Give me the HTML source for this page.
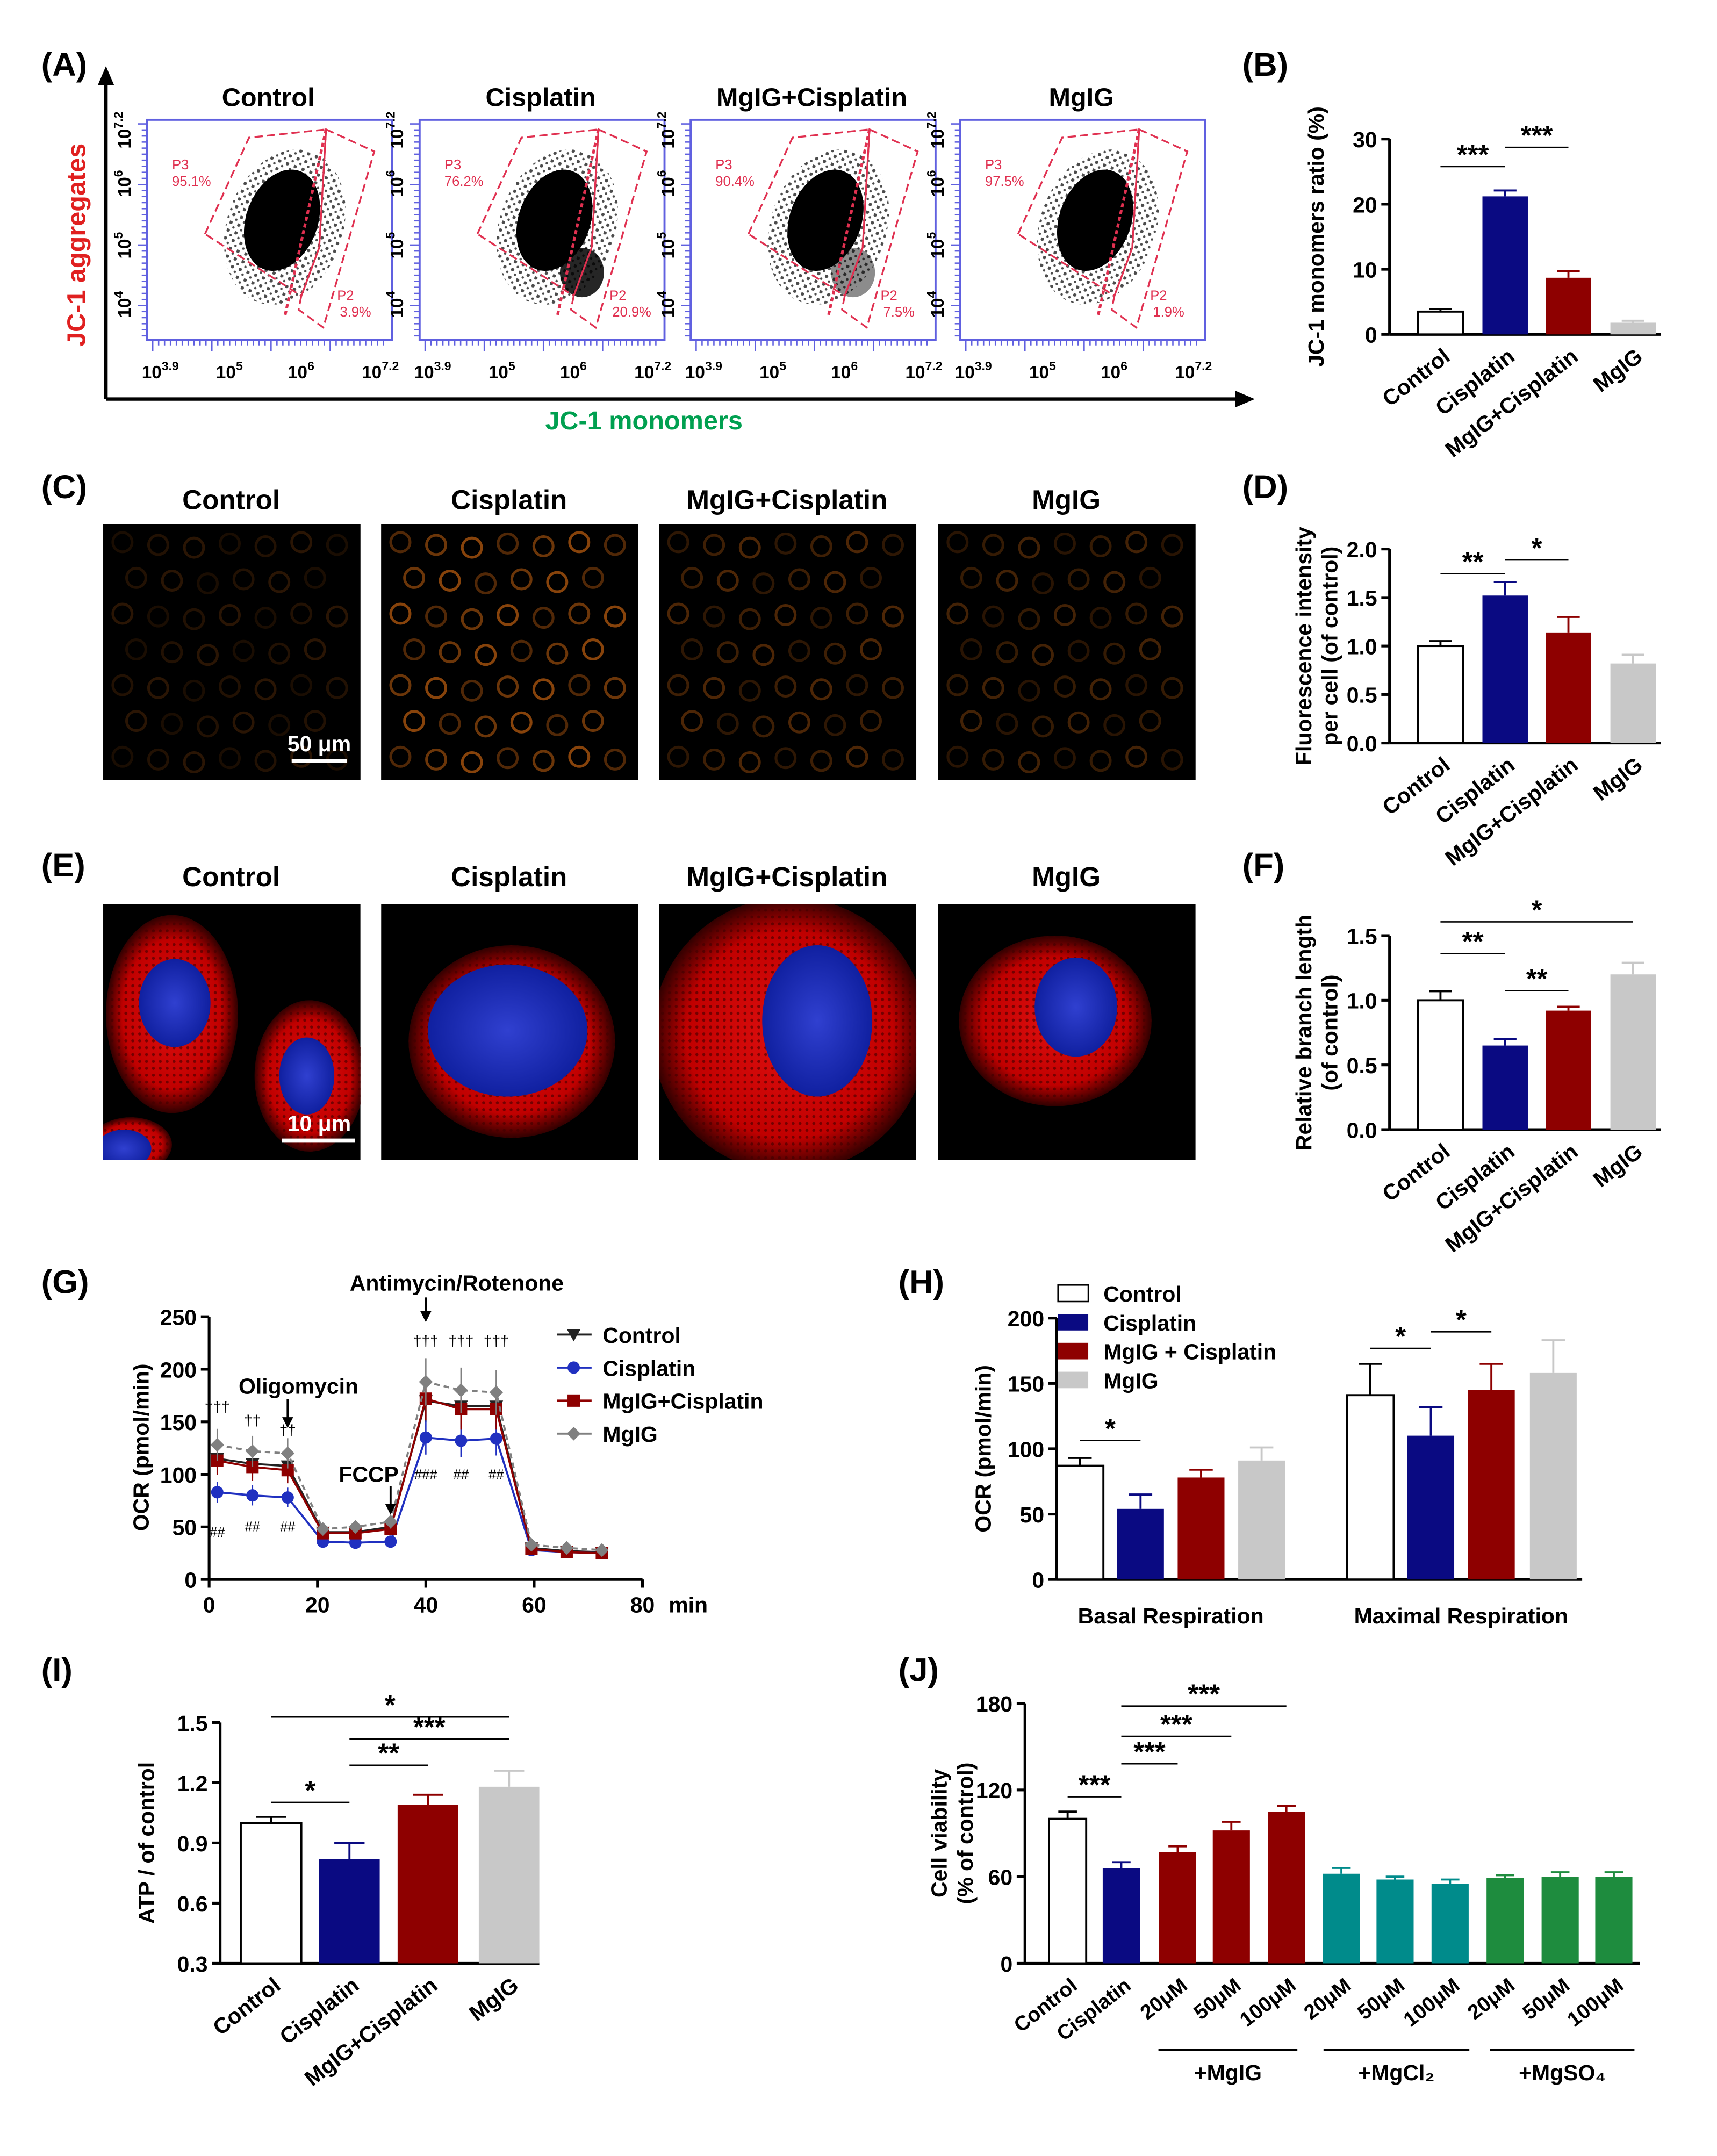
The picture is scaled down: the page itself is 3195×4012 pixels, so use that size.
<!DOCTYPE html>
<html><head><meta charset="utf-8"><style>
body{margin:0;background:#fff}
svg{display:block;font-family:"Liberation Sans",Arial,sans-serif}
</style></head><body>
<svg id="fig" width="3195" height="4012" viewBox="0 0 1248 1567" xmlns="http://www.w3.org/2000/svg">
<defs>
<radialGradient id="redcell" cx="50%" cy="50%" r="50%"><stop offset="0" stop-color="#e01010"/><stop offset="0.75" stop-color="#c00000"/><stop offset="1" stop-color="#300000"/></radialGradient>
<radialGradient id="nuc" cx="50%" cy="50%" r="50%"><stop offset="0" stop-color="#3040d0"/><stop offset="1" stop-color="#1020a0"/></radialGradient>
<pattern id="speck" width="6" height="6" patternUnits="userSpaceOnUse"><rect width="6" height="6" fill="none"/><circle cx="1" cy="1" r="1.3" fill="#000"/><circle cx="4" cy="4" r="0.9" fill="#000"/></pattern>
<pattern id="redspeck" width="5" height="5" patternUnits="userSpaceOnUse"><circle cx="1.5" cy="1.5" r="1.1" fill="#400000" opacity="0.6"/></pattern>
</defs>
<g id="root"></g>
</svg>
<script>
// ---- data ----
const barCats = ["Control","Cisplatin","MgIG+Cisplatin","MgIG"];
const bValues = [3.5,21.2,8.7,1.8];
const bErr = [0.4,0.9,1.0,0.3];
const dValues = [1.0,1.52,1.14,0.82];
const dErr = [0.05,0.14,0.16,0.09];
const fValues = [1.0,0.65,0.92,1.2];
const fErr = [0.07,0.05,0.03,0.09];
const gTimes = [1.5,8,14.5,21,27,33.5,40,46.5,53,59.5,66,72.5];
const gControl = [115,110,108,45,45,50,170,165,165,30,27,26];
const gCisplatin = [83,80,78,36,35,36,135,132,134,28,26,25];
const gMgCis = [113,107,104,44,44,48,172,162,162,29,26,25];
const gMgIG = [128,122,120,48,50,55,188,180,178,33,30,28];
const hBasal = [87,54,78,91];
const hBasalErr = [6,11,6,10];
const hMax = [141,110,145,158];
const hMaxErr = [24,22,20,25];
const iValues = [1.0,0.82,1.09,1.18];
const iErr = [0.03,0.08,0.05,0.08];
const jCats = ["Control","Cisplatin","20μM","50μM","100μM","20μM","50μM","100μM","20μM","50μM","100μM"];
const jValues = [100,66,77,92,105,62,58,55,59,60,60];
const jErr = [5,4,4,6,4,4,2,3,2,3,3];
const flowP3 = ["95.1%","76.2%","90.4%","97.5%"];
const flowP2 = ["3.9%","20.9%","7.5%","1.9%"];

const NS="http://www.w3.org/2000/svg";
const root=document.getElementById('root');
function el(tag,attrs,parent,text){const e=document.createElementNS(NS,tag);for(const k in attrs)e.setAttribute(k,attrs[k]);if(text!==undefined)e.textContent=text;(parent||root).appendChild(e);return e;}
const COL=["#ffffff","#0a0a82","#8e0000","#c8c8c8"];

function label(x,y,t,name){const e=el('text',{x:x,y:y,'font-size':24,'font-weight':'bold'},root,t);

}
label(30,55,"(A)","panel-a-label");label(903,55,"(B)","panel-b-label");
label(30,362,"(C)","panel-c-label");label(903,362,"(D)","panel-d-label");
label(30,637,"(E)","panel-e-label");label(903,637,"(F)","panel-f-label");
label(30,940,"(G)","panel-g-label");label(653,940,"(H)","panel-h-label");
label(30,1222,"(I)","panel-i-label");label(653,1222,"(J)","panel-j-label");

// ---- Panel A flow plots ----
el('line',{x1:77,y1:290,x2:77,y2:58,stroke:'#000','stroke-width':2.5});
el('polygon',{points:"77,48 71,62 83,62",fill:'#000'});
el('line',{x1:77,y1:290,x2:900,y2:290,stroke:'#000','stroke-width':2.5});
el('polygon',{points:"912,290 898,284 898,296",fill:'#000'});
let t=el('text',{x:468,y:312,'font-size':19,'font-weight':'bold',fill:'#00a050','text-anchor':'middle'},root,"JC-1 monomers");

t=el('text',{x:0,y:0,'font-size':19,'font-weight':'bold',fill:'#e02020','text-anchor':'middle',transform:'translate(62,178) rotate(-90)'},root,"JC-1 aggregates");

const flowX=[107,305,502,698];
flowX.forEach((x0,i)=>{
  const g=el('g',{});
  
  el('text',{x:x0+88,y:77,'font-size':19,'font-weight':'bold','text-anchor':'middle'},g,barCats[i]);
  el('rect',{x:x0,y:87,width:178,height:160,fill:'#fff',stroke:'#6060e0','stroke-width':1.5},g);
  el('ellipse',{cx:x0+100,cy:165,rx:42,ry:58,fill:'url(#speck)',opacity:0.7,transform:`rotate(20 ${x0+100} 165)`},g);
  el('ellipse',{cx:x0+98,cy:160,rx:26,ry:38,fill:'#000',transform:`rotate(20 ${x0+98} 160)`},g);
  if(i==1||i==2) el('ellipse',{cx:x0+118,cy:198,rx:16,ry:18,fill:'#000',opacity:i==1?0.85:0.45},g);
  el('polygon',{points:`${x0+42},170 ${x0+74},100 ${x0+130},94 ${x0+125},180 ${x0+112},215`,fill:'none',stroke:'#e03050','stroke-width':1.3,'stroke-dasharray':'6 3'},g);
  el('polygon',{points:`${x0+130},94 ${x0+165},110 ${x0+128},238 ${x0+110},225 ${x0+112},215 ${x0+125},180`,fill:'none',stroke:'#e03050','stroke-width':1.3,'stroke-dasharray':'6 3'},g);
  el('line',{x1:x0+130,y1:94,x2:x0+100,y2:230,stroke:'#e03050','stroke-width':2,'stroke-dasharray':'3 2'},g);
  el('text',{x:x0+18,y:123,'font-size':10,fill:'#e03050'},g,"P3");
  el('text',{x:x0+18,y:135,'font-size':10,fill:'#e03050'},g,flowP3[i]);
  el('text',{x:x0+138,y:218,'font-size':10,fill:'#e03050'},g,"P2");
  el('text',{x:x0+140,y:230,'font-size':10,fill:'#e03050'},g,flowP2[i]);
  for(let k=0;k<40;k++){el('line',{x1:x0+4+k*4.3,y1:247,x2:x0+4+k*4.3,y2:k%10==0?255:251,stroke:'#6060e0','stroke-width':1},g);}
  for(let k=0;k<36;k++){el('line',{x1:x0,y1:90+k*4.4,x2:x0-(k%10==0?7:4),y2:90+k*4.4,stroke:'#6060e0','stroke-width':1},g);}
  [["10","3.9",x0+4],["10","5",x0+58],["10","6",x0+110],["10","7.2",x0+164]].forEach(a=>{
    const tt=el('text',{x:a[2]-8,y:275,'font-size':13,'font-weight':'bold'},g,a[0]);
    el('tspan',{dy:-6,'font-size':9},tt,a[1]);
  });
  [["10","7.2",100],["10","6",135],["10","5",180],["10","4",223]].forEach(a=>{
    const tt=el('text',{x:0,y:0,'font-size':13,'font-weight':'bold',transform:`translate(${x0-12},${a[2]+8}) rotate(-90)`},g,a[0]);
    el('tspan',{dy:-6,'font-size':9},tt,a[1]);
  });
});

// ---- generic bar chart ----
function barChart(o){
  const g=el('g',{});
  
  const y=v=>o.y0+(v-o.vmin)/(o.vmax-o.vmin)*(o.y1-o.y0);
  el('line',{x1:o.ax,y1:y(o.vmin),x2:o.ax,y2:y(o.vmax),stroke:'#000','stroke-width':2},g);
  el('line',{x1:o.ax,y1:y(o.vmin),x2:o.axEnd,y2:y(o.vmin),stroke:'#000','stroke-width':2},g);
  o.ticks.forEach((tv,k)=>{el('line',{x1:o.ax-6,y1:y(tv),x2:o.ax,y2:y(tv),stroke:'#000','stroke-width':2},g);
    el('text',{x:o.ax-9,y:y(tv)+6,'font-size':o.fs||16,'font-weight':'bold','text-anchor':'end'},g,o.tickLabels[k]);});
  o.values.forEach((v,k)=>{
    const cx=o.xs[k],w=o.w,top=y(v),e=y(v+o.err[k]);
    el('line',{x1:cx,y1:top,x2:cx,y2:e,stroke:o.colors[k]=="#ffffff"?'#000':o.colors[k],'stroke-width':1.5},g);
    el('line',{x1:cx-w/4,y1:e,x2:cx+w/4,y2:e,stroke:o.colors[k]=="#ffffff"?'#000':o.colors[k],'stroke-width':1.5},g);
    const r=el('rect',{x:cx-w/2,y:top,width:w,height:y(o.vmin)-top,fill:o.colors[k],stroke:o.colors[k]=="#ffffff"?'#000':'none','stroke-width':1.5},g);
    
    
  });
  if(o.cats) o.cats.forEach((c,k)=>{
    el('text',{x:0,y:0,'font-size':o.cfs||16,'font-weight':'bold','text-anchor':'end',transform:`translate(${o.xs[k]+8},${y(o.vmin)+18}) rotate(-38)`},g,c);});
  if(o.title){o.title.forEach((tl,k)=>el('text',{x:0,y:0,'font-size':16,'font-weight':'bold','text-anchor':'middle',transform:`translate(${o.ax-48+k*19-(o.title.length-1)*9},${(y(o.vmin)+y(o.vmax))/2}) rotate(-90)`},g,tl));}
  (o.sig||[]).forEach(s=>{
    el('line',{x1:o.xs[s[0]],y1:s[2],x2:o.xs[s[1]],y2:s[2],stroke:'#000','stroke-width':1},g);
    el('text',{x:(o.xs[s[0]]+o.xs[s[1]])/2,y:s[2]-2,'font-size':20,'font-weight':'bold','text-anchor':'middle'},g,s[3]);
  });
  return {g,y};
}
const bx=[1047,1094,1140,1187];
barChart({name:'chart-b',ax:1010,axEnd:1207,y0:243,y1:101,vmin:0,vmax:30,ticks:[0,10,20,30],tickLabels:["0","10","20","30"],values:bValues,err:bErr,xs:bx,w:33,colors:COL,cats:barCats,title:["JC-1 monomers ratio (%)"],sig:[[0,1,121,"***"],[1,2,107,"***"]]});
barChart({name:'chart-d',ax:1010,axEnd:1207,y0:540,y1:399,vmin:0,vmax:2,ticks:[0,0.5,1,1.5,2],tickLabels:["0.0","0.5","1.0","1.5","2.0"],values:dValues,err:dErr,xs:bx,w:33,colors:COL,cats:barCats,title:["Fluorescence intensity","per cell (of control)"],sig:[[0,1,417,"**"],[1,2,407,"*"]]});
barChart({name:'chart-f',ax:1010,axEnd:1207,y0:821,y1:680,vmin:0,vmax:1.5,ticks:[0,0.5,1,1.5],tickLabels:["0.0","0.5","1.0","1.5"],values:fValues,err:fErr,xs:bx,w:33,colors:COL,cats:barCats,title:["Relative branch length","(of control)"],sig:[[0,1,693,"**"],[1,2,720,"**"],[0,3,670,"*"]]});

// ---- Panels C and E images ----
const imgX=[75,277,479,682];
imgX.forEach((x0,i)=>{
  let g=el('g',{});
  el('text',{x:x0+93,y:370,'font-size':20,'font-weight':'bold','text-anchor':'middle'},g,barCats[i]);
  el('rect',{x:x0,y:381,width:187,height:186,fill:'#000'},g);
  const br=[0.22,0.7,0.4,0.35][i];
  for(let r=0;r<7;r++)for(let c=0;c<7;c++){
    const cx=x0+14+c*26+(r%2)*10, cy=394+r*26+((c*7)%5);
    if(cx<x0+180) el('circle',{cx:cx,cy:cy,r:7,fill:'none',stroke:'#c06010','stroke-width':2,opacity:br*(0.6+((r+c)%3)*0.2)},g);
  }
  const cp=el('clipPath',{id:'clipE'+i});
  el('rect',{x:x0,y:657,width:187,height:186},cp);
  let g2=el('g',{'clip-path':`url(#clipE${i})`});
  el('rect',{x:x0,y:657,width:187,height:186,fill:'#000'},g2);
  const cells=[[[50,80,48,72],[150,125,40,55],[20,175,30,20]],[[95,100,75,70]],[[95,95,100,100]],[[85,85,70,62]]][i];
  const nucs=[[[52,72,26,32],[148,125,20,28],[15,178,20,14]],[[92,92,58,48]],[[115,85,40,55]],[[100,75,30,36]]][i];
  cells.forEach(c=>{el('ellipse',{cx:x0+c[0],cy:657+c[1],rx:c[2],ry:c[3],fill:'url(#redcell)'},g2);
    el('ellipse',{cx:x0+c[0],cy:657+c[1],rx:c[2],ry:c[3],fill:'url(#redspeck)'},g2);});
  nucs.forEach(c=>el('ellipse',{cx:x0+c[0],cy:657+c[1],rx:c[2],ry:c[3],fill:'url(#nuc)'},g2));
  el('text',{x:x0+93,y:644,'font-size':20,'font-weight':'bold','text-anchor':'middle'},g,barCats[i]);
});
el('text',{x:232,y:546,'font-size':16,'font-weight':'bold',fill:'#fff','text-anchor':'middle'},root,"50 μm");
el('line',{x1:212,y1:553,x2:252,y2:553,stroke:'#fff','stroke-width':3});
el('text',{x:232,y:822,'font-size':16,'font-weight':'bold',fill:'#fff','text-anchor':'middle'},root,"10 μm");
el('line',{x1:205,y1:829,x2:258,y2:829,stroke:'#fff','stroke-width':3});

// ---- Panel G line chart ----
(function(){
  const g=el('g',{});
  const X=v=>152+v/80*315, Y=v=>1148-v/250*191;
  el('line',{x1:X(0),y1:Y(0),x2:X(0),y2:Y(250),stroke:'#000','stroke-width':2},g);
  el('line',{x1:X(0),y1:Y(0),x2:X(80),y2:Y(0),stroke:'#000','stroke-width':2},g);
  [0,50,100,150,200,250].forEach(v=>{el('line',{x1:X(0)-6,y1:Y(v),x2:X(0),y2:Y(v),stroke:'#000','stroke-width':2},g);
    el('text',{x:X(0)-9,y:Y(v)+6,'font-size':16,'font-weight':'bold','text-anchor':'end'},g,String(v));});
  [0,20,40,60,80].forEach(v=>{el('line',{x1:X(v),y1:Y(0),x2:X(v),y2:Y(0)+6,stroke:'#000','stroke-width':2},g);
    el('text',{x:X(v),y:Y(0)+24,'font-size':16,'font-weight':'bold','text-anchor':'middle'},g,String(v));});
  el('text',{x:486,y:1172,'font-size':16,'font-weight':'bold'},g,"min");
  el('text',{x:0,y:0,'font-size':16,'font-weight':'bold','text-anchor':'middle',transform:`translate(108,1052) rotate(-90)`},g,"OCR (pmol/min)");
  const series=[[gControl,'#222','tri','Control'],[gCisplatin,'#2030c0','circ','Cisplatin'],[gMgCis,'#8e0000','sq','MgIG+Cisplatin'],[gMgIG,'#808080','dia','MgIG']];
  function mark(g,t,x,y,c){
    if(t=='tri')el('polygon',{points:`${x-5},${y-4} ${x+5},${y-4} ${x},${y+5}`,fill:c},g);
    else if(t=='circ')el('circle',{cx:x,cy:y,r:4.5,fill:c},g);
    else if(t=='sq')el('rect',{x:x-4.5,y:y-4.5,width:9,height:9,fill:c},g);
    else el('polygon',{points:`${x},${y-5} ${x+5},${y} ${x},${y+5} ${x-5},${y}`,fill:c},g);
  }
  series.forEach((s,si)=>{
    const pts=gTimes.map((tv,k)=>X(tv)+','+Y(s[0][k])).join(' ');
    const pl=el('polyline',{points:pts,fill:'none',stroke:s[1],'stroke-width':1.5,'stroke-dasharray':si==3?'4 3':'none'},g);
    
    
    gTimes.forEach((tv,k)=>{
      const cx=X(tv),cy=Y(s[0][k]),e=s[0][k]*0.12;
      el('line',{x1:cx,y1:Y(s[0][k]-e),x2:cx,y2:Y(s[0][k]+e),stroke:s[1],'stroke-width':1},g);
      mark(g,s[2],cx,cy,s[1]);
    });
    const ly=970+si*24;
    el('line',{x1:405,y1:ly,x2:430,y2:ly,stroke:s[1],'stroke-width':1.5},g);
    mark(g,s[2],417,ly,s[1]);
    el('text',{x:438,y:ly+6,'font-size':16,'font-weight':'bold'},g,s[3]);
  });
  el('text',{x:217,y:1013,'font-size':16,'font-weight':'bold','text-anchor':'middle'},g,"Oligomycin");
  el('text',{x:268,y:1077,'font-size':16,'font-weight':'bold','text-anchor':'middle'},g,"FCCP");
  el('text',{x:332,y:938,'font-size':16,'font-weight':'bold','text-anchor':'middle'},g,"Antimycin/Rotenone");
  [[X(14.5),1017,1035],[X(33.5),1080,1098],[X(40),943,958]].forEach(a=>{
    el('line',{x1:a[0],y1:a[1],x2:a[0],y2:a[2],stroke:'#000','stroke-width':1.5},g);
    el('polygon',{points:`${a[0]-4},${a[2]-5} ${a[0]+4},${a[2]-5} ${a[0]},${a[2]+3}`,fill:'#000'},g);});
  [["†††",1.5,1026],["††",8,1036],["††",14.5,1043],["†††",40,978],["†††",46.5,978],["†††",53,978]].forEach(a=>el('text',{x:X(a[1]),y:a[2],'font-size':11,'text-anchor':'middle'},g,a[0]));
  [["##",1.5,1117],["##",8,1113],["##",14.5,1113],["###",40,1075],["##",46.5,1075],["##",53,1075]].forEach(a=>el('text',{x:X(a[1]),y:a[2],'font-size':10,'text-anchor':'middle'},g,a[0]));
})();

// ---- Panel H ----
(function(){
  const xs=[785,829,873,917,996,1040,1084,1129];
  const vals=hBasal.concat(hMax), errs=hBasalErr.concat(hMaxErr);
  const r=barChart({name:'chart-h',ax:768,axEnd:1150,y0:1148,y1:958,vmin:0,vmax:200,ticks:[0,50,100,150,200],tickLabels:["0","50","100","150","200"],values:vals,err:errs,xs:xs,w:34,colors:COL.concat(COL),title:["OCR (pmol/min)"],sig:[[0,1,1047,"*"],[4,5,980,"*"],[5,6,968,"*"]]});
  el('text',{x:851,y:1180,'font-size':16,'font-weight':'bold','text-anchor':'middle'},r.g,"Basal Respiration");
  el('text',{x:1062,y:1180,'font-size':16,'font-weight':'bold','text-anchor':'middle'},r.g,"Maximal Respiration");
  ["Control","Cisplatin","MgIG + Cisplatin","MgIG"].forEach((n,k)=>{
    const ly=934+k*21;
    el('rect',{x:769,y:ly,width:22,height:12,fill:COL[k],stroke:k==0?'#000':'none'},r.g);
    el('text',{x:802,y:ly+12,'font-size':16,'font-weight':'bold'},r.g,n);});
})();

// ---- Panel I ----
barChart({name:'chart-i',ax:160,axEnd:392,y0:1427,y1:1252,vmin:0.3,vmax:1.5,ticks:[0.3,0.6,0.9,1.2,1.5],tickLabels:["0.3","0.6","0.9","1.2","1.5"],values:iValues,err:iErr,xs:[197,254,311,370],w:44,colors:COL,cats:barCats,title:["ATP / of control"],sig:[[0,1,1310,"*"],[1,2,1283,"**"],[1,3,1264,"***"],[0,3,1248,"*"]]});

// ---- Panel J ----
(function(){
  const xs=[776,815,856,895,935,975,1014,1054,1094,1134,1173];
  const cols=["#ffffff","#0a0a82","#8e0000","#8e0000","#8e0000","#008b8b","#008b8b","#008b8b","#1e8c3e","#1e8c3e","#1e8c3e"];
  const r=barChart({name:'chart-j',ax:745,axEnd:1192,y0:1427,y1:1238,vmin:0,vmax:180,ticks:[0,60,120,180],tickLabels:["0","60","120","180"],values:jValues,err:jErr,xs:xs,w:27,colors:cols,cats:jCats,cfs:15,title:["Cell viability","(% of control)"],sig:[[0,1,1306,"***"],[1,2,1282,"***"],[1,3,1262,"***"],[1,4,1240,"***"]]});
  [[842,943,"+MgIG"],[962,1068,"+MgCl₂"],[1083,1188,"+MgSO₄"]].forEach(a=>{
    el('line',{x1:a[0],y1:1490,x2:a[1],y2:1490,stroke:'#000','stroke-width':1.5},r.g);
    el('text',{x:(a[0]+a[1])/2,y:1512,'font-size':16,'font-weight':'bold','text-anchor':'middle'},r.g,a[2]);});
})();
</script>
</body></html>
